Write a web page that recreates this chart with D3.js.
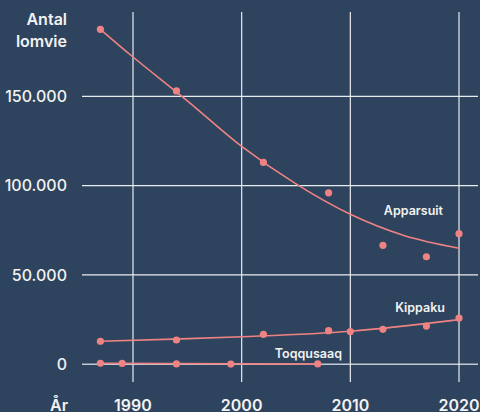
<!DOCTYPE html>
<html>
<head>
<meta charset="utf-8">
<script src="https://cdn.jsdelivr.net/npm/d3@7"></script>
<style>
  html, body { margin: 0; padding: 0; background: #2e435e; }
  svg { display: block; font-family: "Inter", "Roboto", sans-serif; }
</style>
</head>
<body>
<div id="chart"></div>
<script>
// Tick labels
const yTicks = [0, 50000, 100000, 150000];
const xTicks = [1990, 2000, 2010, 2020];

// Apparsuit colony counts and fitted trend
const apparsuitYears = [1987, 1994, 2002, 2008, 2013, 2017, 2020];
const apparsuitValues = [187500, 153000, 113000, 96000, 66600, 60200, 73100];
const apparsuitTrendYears = [1987, 1990, 1995, 2000, 2005, 2010, 2015, 2020];
const apparsuitTrendValues = [187500, 172000, 147500, 122000, 101000, 84000, 72000, 65000];

// Kippaku
const kippakuYears = [1987, 1994, 2002, 2008, 2010, 2013, 2017, 2020];
const kippakuValues = [12900, 13600, 16800, 18800, 18300, 19600, 21400, 25900];
const kippakuTrendYears = [1987, 2000, 2010, 2020];
const kippakuTrendValues = [12900, 15400, 18500, 25000];

// Toqqusaaq
const toqqusaaqYears = [1987, 1989, 1994, 1999, 2007];
const toqqusaaqValues = [600, 500, 200, 150, 200];
const toqqusaaqTrendYears = [1987, 2007];
const toqqusaaqTrendValues = [550, 100];

const width = 480, height = 412;
const color = "#ef8383";
const textColor = "#f2f2f2";

const svg = d3.select("#chart").append("svg")
    .attr("width", width)
    .attr("height", height);

svg.append("rect").attr("width", width).attr("height", height).attr("fill", "#2e435e");

const x = d3.scaleLinear().domain([1990, 2020]).range([133, 459]);
const y = d3.scaleLinear().domain([0, 150000]).range([364.3, 96.3]);

const fmt = v => d3.format(",")(v).replace(/,/g, ".");

// horizontal grid
svg.append("g").selectAll("line").data(yTicks).enter().append("line")
    .attr("x1", 82).attr("x2", 478)
    .attr("y1", d => y(d)).attr("y2", d => y(d))
    .attr("stroke", d => d === 0 ? "#c3cad3" : "#e9ecef")
    .attr("stroke-width", d => d === 0 ? 1.6 : 1.2);

// vertical grid
svg.append("g").selectAll("line").data(xTicks).enter().append("line")
    .attr("x1", d => x(d)).attr("x2", d => x(d))
    .attr("y1", 12).attr("y2", 382)
    .attr("stroke", "#e9ecef")
    .attr("stroke-width", 1.2);

// y tick labels
svg.append("g").selectAll("text").data(yTicks).enter().append("text")
    .attr("x", 67).attr("y", d => y(d)).attr("dy", "0.36em")
    .attr("text-anchor", "end")
    .attr("fill", textColor)
    .style("font-size", "16px").style("font-weight", 500)
    .text(fmt);

// x tick labels (cut by the bottom edge, as in the original)
svg.append("g").selectAll("text").data(xTicks).enter().append("text")
    .attr("x", d => x(d)).attr("y", 411)
    .attr("text-anchor", "middle")
    .attr("fill", textColor)
    .style("font-size", "16px").style("font-weight", 600)
    .text(d => d);

// axis titles
const yTitle = svg.append("text")
    .attr("x", 67).attr("y", 25)
    .attr("text-anchor", "end")
    .attr("fill", textColor)
    .style("font-size", "16px").style("font-weight", 600);
yTitle.append("tspan").attr("x", 67).text("Antal");
yTitle.append("tspan").attr("x", 67).attr("dy", 22).text("lomvie");

svg.append("text")
    .attr("x", 59).attr("y", 411)
    .attr("text-anchor", "middle")
    .attr("fill", textColor)
    .style("font-size", "16px").style("font-weight", 600)
    .text("År");

const line = d3.line().x(d => x(d[0])).y(d => y(d[1])).curve(d3.curveCatmullRom);

const series = [
    { years: apparsuitYears, values: apparsuitValues, tYears: apparsuitTrendYears, tValues: apparsuitTrendValues },
    { years: kippakuYears, values: kippakuValues, tYears: kippakuTrendYears, tValues: kippakuTrendValues },
    { years: toqqusaaqYears, values: toqqusaaqValues, tYears: toqqusaaqTrendYears, tValues: toqqusaaqTrendValues }
];

series.forEach(s => {
    svg.append("path")
        .datum(d3.zip(s.tYears, s.tValues))
        .attr("fill", "none")
        .attr("stroke", color)
        .attr("stroke-width", 1.6)
        .attr("d", line);
    svg.append("g").selectAll("circle").data(d3.zip(s.years, s.values)).enter().append("circle")
        .attr("cx", d => x(d[0]))
        .attr("cy", d => y(d[1]))
        .attr("r", 3.6)
        .attr("fill", color);
});

// series labels
const labels = [
    { text: "Apparsuit", x: 443, y: 215 },
    { text: "Kippaku", x: 445, y: 312 },
    { text: "Toqqusaaq", x: 342, y: 358 }
];
svg.append("g").selectAll("text").data(labels).enter().append("text")
    .attr("x", d => d.x).attr("y", d => d.y)
    .attr("text-anchor", "end")
    .attr("fill", textColor)
    .style("font-size", "12.5px").style("font-weight", 600)
    .text(d => d.text);
</script>
</body>
</html>
